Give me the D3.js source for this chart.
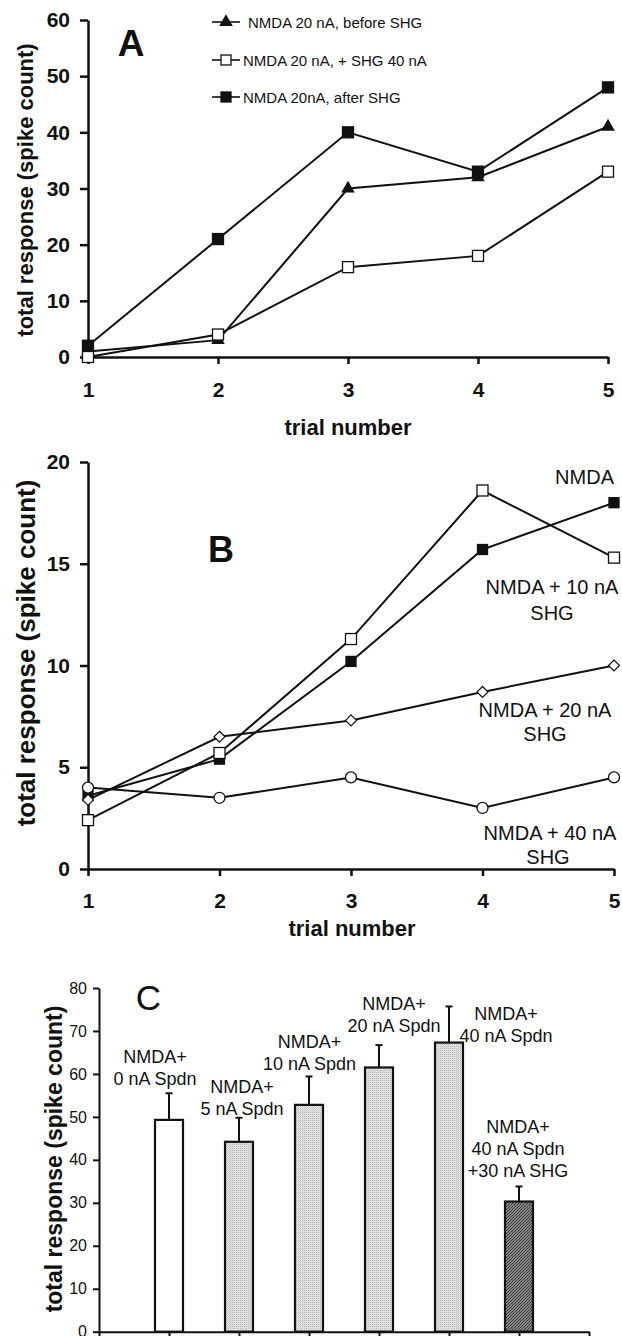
<!DOCTYPE html>
<html>
<head>
<meta charset="utf-8">
<script src="https://cdn.jsdelivr.net/npm/d3@7"></script>
<style>
  body { margin: 0; background: #fff; }
  svg { display: block; font-family: "Liberation Sans", Arial, sans-serif; }
  .bold { font-weight: bold; }
</style>
</head>
<body>
<svg width="622" height="1336"></svg>
<script>
// ---- data ----
let trials = [1, 2, 3, 4, 5];

// panel A
let aBefore = [1, 3, 30, 32, 41];
let aWithShg = [0, 4, 16, 18, 33];
let aAfter = [2, 21, 40, 33, 48];
let aLegend = ["NMDA 20 nA, before SHG", "NMDA 20 nA, + SHG 40 nA", "NMDA 20nA, after SHG"];
let aTicksY = [0, 10, 20, 30, 40, 50, 60];

// panel B
let bNmda = [3.6, 5.4, 10.2, 15.7, 18];
let bShg10 = [2.4, 5.7, 11.3, 18.6, 15.3];
let bShg20 = [3.4, 6.5, 7.3, 8.7, 10];
let bShg40 = [4, 3.5, 4.5, 3, 4.5];
let bTicksY = [0, 5, 10, 15, 20];

// panel C
let cLabels = [
    ["NMDA+", "0 nA Spdn"],
    ["NMDA+", "5 nA Spdn"],
    ["NMDA+", "10 nA Spdn"],
    ["NMDA+", "20 nA Spdn"],
    ["NMDA+", "40 nA Spdn"],
    ["NMDA+", "40 nA Spdn", "+30 nA SHG"]
];
let cMeans = [49.3, 44.2, 52.8, 61.5, 67.3, 30.3];
let cErrTop = [55.5, 49.8, 59.4, 66.7, 75.7, 33.8];
let cFills = ["white", "light", "light", "light", "light", "dark"];
let cTicksY = [0, 10, 20, 30, 40, 50, 60, 70, 80];

let svg = d3.select("svg");
let ink = "#111";

// patterns for the bar fills
let defs = svg.append("defs");
let pl = defs.append("pattern").attr("id", "light")
    .attr("width", 2).attr("height", 2).attr("patternUnits", "userSpaceOnUse");
pl.append("rect").attr("width", 2).attr("height", 2).attr("fill", "#e6e6e6");
pl.append("rect").attr("width", 1).attr("height", 1).attr("fill", "#b8b8b8");
pl.append("rect").attr("x", 1).attr("y", 1).attr("width", 1).attr("height", 1).attr("fill", "#d0d0d0");
let pd = defs.append("pattern").attr("id", "dark")
    .attr("width", 3).attr("height", 3).attr("patternUnits", "userSpaceOnUse");
pd.append("rect").attr("width", 3).attr("height", 3).attr("fill", "#a8a8a8");
pd.append("path").attr("d", "M-1,1L1,-1M0,3L3,0M2,4L4,2").attr("stroke", "#333").attr("stroke-width", 1.1);

function styleAxis(g, width, size, bold) {
    g.select(".domain").attr("stroke", ink).attr("stroke-width", width);
    g.selectAll(".tick line").attr("stroke", ink).attr("stroke-width", width);
    g.selectAll(".tick text").attr("fill", ink)
        .style("font-size", size + "px")
        .style("font-weight", bold ? "bold" : "normal");
}

// marker painters
function square(g, x, y, fill, s) {
    g.append("rect").attr("x", x - s / 2).attr("y", y - s / 2)
        .attr("width", s).attr("height", s)
        .attr("fill", fill).attr("stroke", ink).attr("stroke-width", 1.3);
}
function triangle(g, x, y) {
    g.append("path").attr("transform", "translate(" + x + "," + y + ")")
        .attr("d", d3.symbol(d3.symbolTriangle, 80)()).attr("fill", ink);
}
function diamond(g, x, y) {
    g.append("path").attr("transform", "translate(" + x + "," + y + ")")
        .attr("d", "M0,-5.5L5.5,0L0,5.5L-5.5,0Z")
        .attr("fill", "white").attr("stroke", ink).attr("stroke-width", 1.2);
}
function circle(g, x, y) {
    g.append("circle").attr("cx", x).attr("cy", y).attr("r", 5.5)
        .attr("fill", "white").attr("stroke", ink).attr("stroke-width", 1.3);
}

function drawSeries(g, x, y, values, marker) {
    let line = d3.line()
        .x(function (d, i) { return x(trials[i]); })
        .y(function (d) { return y(d); });
    g.append("path").datum(values).attr("d", line)
        .attr("fill", "none").attr("stroke", ink).attr("stroke-width", 2);
    values.forEach(function (v, i) { marker(g, x(trials[i]), y(v)); });
}

function yTitle(x, y, size) {
    svg.append("text").attr("class", "bold")
        .attr("transform", "translate(" + x + "," + y + ") rotate(-90)")
        .attr("text-anchor", "middle").attr("fill", ink)
        .style("font-size", size + "px")
        .text("total response (spike count)");
}

function label(x, y, txt, size, anchor, cls) {
    svg.append("text").attr("x", x).attr("y", y)
        .attr("text-anchor", anchor || "middle").attr("fill", ink)
        .attr("class", cls || null)
        .style("font-size", size + "px").text(txt);
}

//////////// PANEL A ////////////
let xA = d3.scaleLinear().domain([1, 5]).range([88, 608]);
let yA = d3.scaleLinear().domain([0, 60]).range([357, 20]);
let gA = svg.append("g");

gA.append("g").attr("transform", "translate(0," + yA(0) + ")")
    .call(d3.axisBottom(xA).tickValues(trials).tickFormat(d3.format("d"))
        .tickSize(7).tickPadding(18).tickSizeOuter(0))
    .call(styleAxis, 2.5, 21, true);
gA.append("g").attr("transform", "translate(" + xA(1) + ",0)")
    .call(d3.axisLeft(yA).tickValues(aTicksY).tickSize(8).tickPadding(10).tickSizeOuter(0))
    .call(styleAxis, 2.5, 21, true);

drawSeries(gA, xA, yA, aBefore, triangle);
drawSeries(gA, xA, yA, aAfter, function (g, x, y) { square(g, x, y, ink, 11); });
drawSeries(gA, xA, yA, aWithShg, function (g, x, y) { square(g, x, y, "white", 11); });

yTitle(33, 190, 22);
label(348, 435, "trial number", 22, "middle", "bold");
label(131, 56, "A", 37, "middle", "bold");

// legend
let legendY = [22, 60, 97];
let legendX = [248, 243, 243];
let legendMarks = [
    function (g, x, y) { triangle(g, x, y); },
    function (g, x, y) { square(g, x, y, "white", 10); },
    function (g, x, y) { square(g, x, y, ink, 10); }
];
aLegend.forEach(function (t, i) {
    gA.append("line").attr("x1", 212).attr("x2", 240)
        .attr("y1", legendY[i]).attr("y2", legendY[i])
        .attr("stroke", ink).attr("stroke-width", 1.6);
    legendMarks[i](gA, 226, legendY[i]);
    label(legendX[i], legendY[i] + 5.5, t, 15, "start");
});

//////////// PANEL B ////////////
let xB = d3.scaleLinear().domain([1, 5]).range([88, 614]);
let yB = d3.scaleLinear().domain([0, 20]).range([869, 462]);
let gB = svg.append("g");

gB.append("g").attr("transform", "translate(0," + yB(0) + ")")
    .call(d3.axisBottom(xB).tickValues(trials).tickFormat(d3.format("d"))
        .tickSize(7).tickPadding(17).tickSizeOuter(0))
    .call(styleAxis, 2.5, 21, true);
gB.append("g").attr("transform", "translate(" + xB(1) + ",0)")
    .call(d3.axisLeft(yB).tickValues(bTicksY).tickSize(8).tickPadding(10).tickSizeOuter(0))
    .call(styleAxis, 2.5, 21, true);

drawSeries(gB, xB, yB, bNmda, function (g, x, y) { square(g, x, y, ink, 10); });
drawSeries(gB, xB, yB, bShg10, function (g, x, y) { square(g, x, y, "white", 11); });
drawSeries(gB, xB, yB, bShg20, diamond);
drawSeries(gB, xB, yB, bShg40, circle);

yTitle(35, 653, 26);
label(352, 936, "trial number", 22, "middle", "bold");
label(221, 562, "B", 36, "middle", "bold");

label(614, 484, "NMDA", 20, "end");
label(552, 594, "NMDA + 10 nA", 20);
label(552, 620, "SHG", 20);
label(545, 717, "NMDA + 20 nA", 20);
label(545, 741, "SHG", 20);
label(550, 840, "NMDA + 40 nA", 20);
label(548, 864, "SHG", 20);

//////////// PANEL C ////////////
let xC = d3.scaleLinear().domain([0, cMeans.length + 1]).range([99, 589]);
let yC = d3.scaleLinear().domain([0, 80]).range([1331.7, 988]);
let gC = svg.append("g");
let barW = 28;

gC.append("g").attr("transform", "translate(0," + yC(0) + ")")
    .call(d3.axisBottom(xC).tickValues(d3.range(cMeans.length + 2)).tickSize(6).tickFormat("").tickSizeOuter(0))
    .call(styleAxis, 2, 16, false);
gC.append("g").attr("transform", "translate(" + xC(0) + ",0)")
    .call(d3.axisLeft(yC).tickValues(cTicksY).tickSize(6).tickPadding(6).tickSizeOuter(0))
    .call(styleAxis, 2, 16, false);

// error bars (upper only)
cMeans.forEach(function (m, i) {
    let cx = xC(i + 1);
    gC.append("line").attr("x1", cx).attr("x2", cx)
        .attr("y1", yC(m)).attr("y2", yC(cErrTop[i]))
        .attr("stroke", ink).attr("stroke-width", 2);
    gC.append("line").attr("x1", cx - 3.5).attr("x2", cx + 3.5)
        .attr("y1", yC(cErrTop[i])).attr("y2", yC(cErrTop[i]))
        .attr("stroke", ink).attr("stroke-width", 2);
});

gC.selectAll("rect.bar").data(cMeans).enter().append("rect")
    .attr("class", "bar")
    .attr("x", function (d, i) { return xC(i + 1) - barW / 2; })
    .attr("y", function (d) { return yC(d); })
    .attr("width", barW)
    .attr("height", function (d) { return yC(0) - yC(d); })
    .attr("fill", function (d, i) { return cFills[i] === "white" ? "white" : "url(#" + cFills[i] + ")"; })
    .attr("stroke", ink).attr("stroke-width", 2.2);

yTitle(62, 1159, 23);
label(148.5, 1010, "C", 35);

// annotation layout for the bar captions
let cLabelPos = [[155, 1063], [242, 1093], [309.5, 1048], [394, 1010], [506, 1020], [518, 1133]];
let cLineGap = 21.8;
cLabels.forEach(function (lines, i) {
    lines.forEach(function (t, j) {
        label(cLabelPos[i][0], cLabelPos[i][1] + j * cLineGap, t, 18);
    });
});
</script>
</body>
</html>
